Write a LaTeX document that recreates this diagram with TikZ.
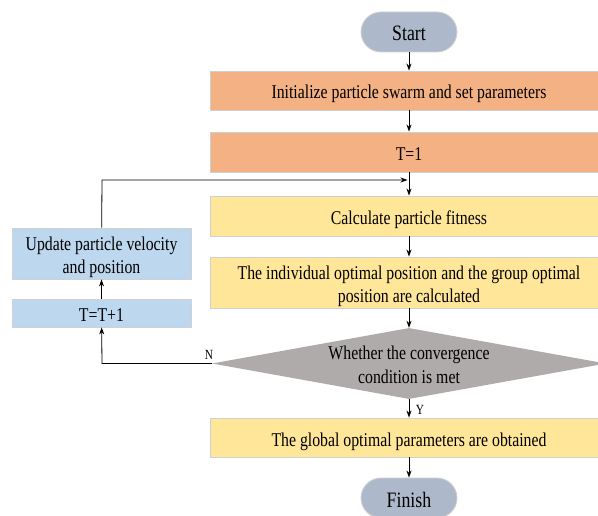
\documentclass[tikz,border=0pt]{standalone}
\usepackage{fontspec}
\setmainfont{Liberation Serif}[FakeStretch=0.81]
\usetikzlibrary{arrows.meta,shapes.geometric}
\definecolor{termc}{HTML}{ADB9CA}
\definecolor{orangec}{HTML}{F4B183}
\definecolor{yellowc}{HTML}{FFE699}
\definecolor{bluec}{HTML}{BDD7EE}
\definecolor{grayc}{HTML}{AFABAB}
\definecolor{edgec}{HTML}{D0D0D0}
\tikzset{
  basebox/.style={draw=edgec, line width=0.9pt, inner sep=0pt, align=center,
    font=\fontsize{19.5}{23.5}\selectfont},
  oneline/.style={text height=21pt, text depth=4pt},
  twoline/.style={text height=44pt, text depth=3.5pt},
  term/.style={basebox, fill=termc, minimum width=96pt, minimum height=40pt,
    rounded corners=20pt, font=\fontsize{22}{26}\selectfont, text height=22pt, text depth=4pt},
  orangebox/.style={basebox, fill=orangec, minimum width=398pt, minimum height=39pt},
  yellowbox/.style={basebox, fill=yellowc, minimum width=398pt},
  bluebox/.style={basebox, fill=bluec, minimum width=179pt},
  decision/.style={shape=diamond, draw=none, fill=grayc, inner sep=0pt,
    minimum width=394pt, minimum height=71pt, aspect=5.55},
  conn/.style={line width=0.8pt, -{Stealth[length=7pt,width=5pt]}},
  lbl/.style={font=\fontsize{14}{16}\selectfont, inner sep=0pt}
}
\begin{document}
\begin{tikzpicture}[x=1pt,y=-1pt]
\useasboundingbox (0,0) rectangle (598,516);
\clip (0,0) rectangle (598,516);
\node[term] (start) at (409,32) {Start};
\node[orangebox, oneline] (init) at (409,90.5) {Initialize particle swarm and set parameters};
\node[orangebox, oneline, minimum height=40pt] (t1) at (409,152) {T=1};
\node[yellowbox, oneline, minimum height=40pt] (calc) at (409,216) {Calculate particle fitness};
\node[yellowbox, twoline, minimum height=51pt] (indiv) at (409,282.5) {The individual optimal position and the group optimal\\position are calculated};
\node[decision] (dec) at (409,363.5) {};
\node[align=center, font=\fontsize{19.5}{24}\selectfont, inner sep=0pt] (dectext) at (409,365) {Whether the convergence\\condition is met};
\node[yellowbox, oneline, minimum height=39pt] (glob) at (409,437.5) {The global optimal parameters are obtained};
\node[term] (finish) at (409,498) {Finish};
\node[bluebox, twoline, minimum height=51pt] (upd) at (101.5,253.5) {Update particle velocity\\and position};
\node[bluebox, oneline, minimum height=28pt] (tt) at (101.5,313) {T=T+1};
\coordinate (jn) at (409,180);
\coordinate (nc) at (102,363.5);
\coordinate (uc) at (102,180);
\draw[conn] (start) -- (init);
\draw[conn] (init) -- (t1);
\draw[conn] (t1) -- (calc);
\draw[conn] (calc) -- (indiv);
\draw[conn] (indiv) -- (dec);
\draw[conn] (dec) -- (glob);
\draw[conn] (glob) -- (finish);
\draw[conn] (dec.west) -- (nc) -- (tt);
\draw[conn] (tt) -- (upd);
\draw[conn] (upd) -- (uc) -- ([xshift=-1.5pt]jn);
\node[lbl] (ylab) at (420,410) {Y};
\node[lbl] (nlab) at (209,355) {N};
\end{tikzpicture}
\end{document}
